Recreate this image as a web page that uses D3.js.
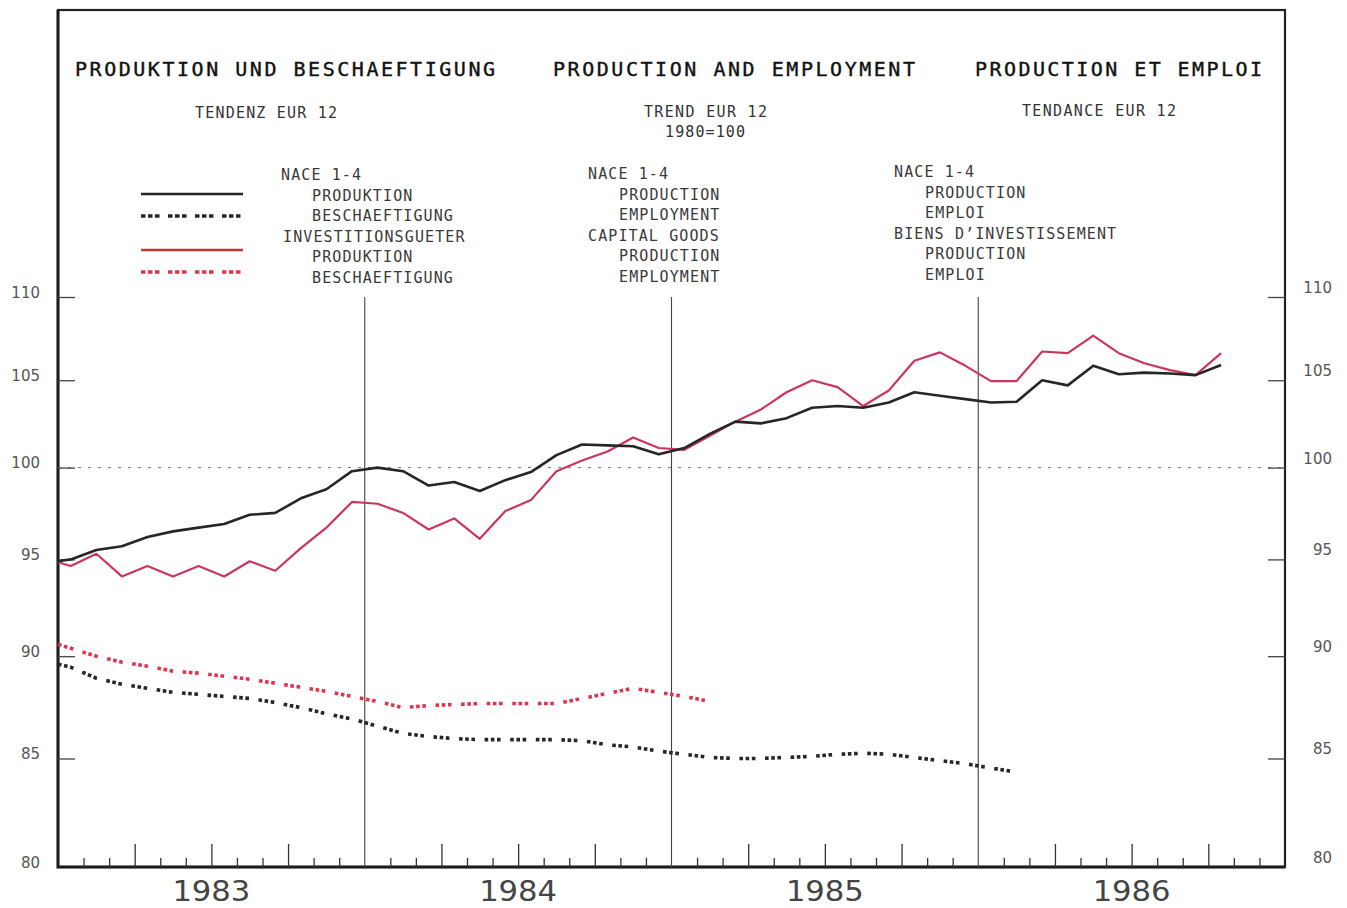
<!DOCTYPE html>
<meta charset="utf-8">
<script src="https://d3js.org/d3.v7.min.js"></script>
<style>
  body { margin: 0; background: #fff; }
  text { font-family: "DejaVu Sans Mono", monospace; }
</style>
<div id="chart"></div>
<script>
// years on the x axis
var years = ["1983", "1984", "1985", "1986"];
var yTicks = [80, 85, 90, 95, 100, 105, 110];

// first value sits on 1 Jan 1983, the rest are monthly (mid-month)
var naceProd = [94.9, 95.0, 95.5, 95.7, 96.2, 96.5, 96.7, 96.9, 97.4, 97.5, 98.3, 98.8, 99.8,
  100.0, 99.8, 99.0, 99.2, 98.7, 99.3, 99.75, 100.7, 101.3, 101.25, 101.2, 100.75,
  101.1, 101.9, 102.6, 102.5, 102.8, 103.4, 103.5, 103.4, 103.7, 104.3, 104.1,
  103.9, 103.7, 103.75, 105.0, 104.7, 105.85, 105.35, 105.45, 105.4, 105.3, 105.9];
var naceEmpl = [89.6, 89.45, 88.9, 88.6, 88.4, 88.2, 88.1, 88.0, 87.9, 87.7, 87.45, 87.15, 86.9,
  86.55, 86.2, 86.05, 85.95, 85.9, 85.9, 85.9, 85.9, 85.85, 85.65, 85.55, 85.35,
  85.2, 85.05, 85.0, 85.0, 85.05, 85.1, 85.2, 85.25, 85.2, 85.05, 84.9, 84.75, 84.55, 84.35];
var capProd = [94.85, 94.65, 95.3, 94.1, 94.65, 94.1, 94.65, 94.1, 94.9, 94.4, 95.6, 96.7, 98.1,
  98.0, 97.5, 96.6, 97.2, 96.1, 97.6, 98.2, 99.8, 100.4, 100.9, 101.7, 101.1,
  101.0, 101.8, 102.6, 103.3, 104.3, 105.0, 104.6, 103.5, 104.4, 106.15, 106.65,
  105.85, 104.95, 104.95, 106.7, 106.6, 107.65, 106.6, 106.0, 105.6, 105.3, 106.6];
var capEmpl = [90.6, 90.4, 90.0, 89.7, 89.5, 89.25, 89.15, 89.0, 88.85, 88.65, 88.45, 88.25, 88.0,
  87.75, 87.45, 87.55, 87.6, 87.65, 87.65, 87.65, 87.65, 87.9, 88.15, 88.4, 88.2, 88.0, 87.75];

var titles = ["PRODUKTION UND BESCHAEFTIGUNG", "PRODUCTION AND EMPLOYMENT", "PRODUCTION ET EMPLOI"];
var legendCols = [
  ["NACE 1-4", "PRODUKTION", "BESCHAEFTIGUNG", "INVESTITIONSGUETER", "PRODUKTION", "BESCHAEFTIGUNG"],
  ["NACE 1-4", "PRODUCTION", "EMPLOYMENT", "CAPITAL GOODS", "PRODUCTION", "EMPLOYMENT"],
  ["NACE 1-4", "PRODUCTION", "EMPLOI", "BIENS D\u2019INVESTISSEMENT", "PRODUCTION", "EMPLOI"]
];

var W = 1347, H = 908;
var pL = 58, pR = 1285, pT = 10, pB = 867;
var black = "#262626", red = "#cc3560", redDot = "#e2334c";

var svg = d3.select("#chart").append("svg")
  .attr("width", W).attr("height", H);
svg.append("rect").attr("width", W).attr("height", H).attr("fill", "#fff");

var x = d3.scaleLinear().domain([0, 48]).range([pL, pR]);
var y = d3.scaleLog().domain([80, 110]).range([pB, 297]);

function tOf(i) { return i == 0 ? 0 : i - 0.5; }

// frame
svg.append("rect")
  .attr("x", pL).attr("y", pT)
  .attr("width", pR - pL).attr("height", pB - pT)
  .attr("fill", "none").attr("stroke", "#222").attr("stroke-width", 2.2);
// heavier left and bottom axis lines
svg.append("path")
  .attr("d", "M" + pL + "," + pT + "V" + pB + "H" + pR)
  .attr("fill", "none").attr("stroke", "#1c1c1c").attr("stroke-width", 3);

// 100 reference
svg.append("line")
  .attr("x1", pL).attr("x2", pR)
  .attr("y1", y(100)).attr("y2", y(100))
  .attr("stroke", "#777").attr("stroke-width", 1)
  .attr("stroke-dasharray", "3,7");

// year separators
svg.selectAll(".sep").data([12, 24, 36]).enter().append("line")
  .attr("x1", d => x(d)).attr("x2", d => x(d))
  .attr("y1", y(110)).attr("y2", pB)
  .attr("stroke", "#444").attr("stroke-width", 1.1);

// y axes: ticks inside, labels outside
var yl = svg.append("g").attr("transform", "translate(" + pL + ",0)")
  .call(d3.axisLeft(y).tickValues(yTicks).tickFormat(d3.format("d"))
    .tickSizeInner(-17).tickSizeOuter(0).tickPadding(18));
var yr = svg.append("g").attr("transform", "translate(" + pR + ",0)")
  .call(d3.axisRight(y).tickValues(yTicks).tickFormat(d3.format("d"))
    .tickSizeInner(-17).tickSizeOuter(0).tickPadding(17));
[yl, yr].forEach(function(g) {
  g.select(".domain").remove();
  g.selectAll(".tick line").attr("stroke", "#444").attr("stroke-width", 1.3)
    .filter(d => d == 80).remove();
  g.selectAll(".tick text")
    .attr("fill", "#555").attr("dy", "0.0em")
    .style("font-family", "'DejaVu Sans', sans-serif").style("font-size", "15px");
});
yr.selectAll(".tick text").attr("text-anchor", "end").attr("x", 47).attr("dy", "-0.3em");

// x ticks: months small, quarters tall
var monthTicks = d3.range(1, 48).filter(m => m % 12 != 0 && m % 3 != 0);
var quarterTicks = d3.range(3, 48, 3).filter(m => m % 12 != 0);
var xm = svg.append("g").attr("transform", "translate(0," + pB + ")")
  .call(d3.axisBottom(x).tickValues(monthTicks).tickFormat("").tickSizeInner(-9).tickSizeOuter(0));
var xq = svg.append("g").attr("transform", "translate(0," + pB + ")")
  .call(d3.axisBottom(x).tickValues(quarterTicks).tickFormat("").tickSizeInner(-23).tickSizeOuter(0));
[xm, xq].forEach(function(g) {
  g.select(".domain").remove();
  g.selectAll(".tick line").attr("stroke", "#333").attr("stroke-width", 1.3);
});

svg.selectAll(".year").data(years).enter().append("text")
  .attr("x", (d, i) => x(i * 12 + 6)).attr("y", 901)
  .attr("text-anchor", "middle")
  .attr("fill", "#444")
  .style("font-family", "'DejaVu Sans', sans-serif").style("font-size", "28px")
  .attr("textLength", 78).attr("lengthAdjust", "spacingAndGlyphs")
  .text(d => d);

// series
var line = d3.line().x((d, i) => x(tOf(i))).y(d => y(d));
var dots = "3.6,2.6,3.6,2.6,3.6,9.6";

svg.append("path").datum(naceEmpl).attr("d", line)
  .attr("fill", "none").attr("stroke", black).attr("stroke-width", 3.6)
  .attr("stroke-dasharray", dots);
svg.append("path").datum(capEmpl).attr("d", line)
  .attr("fill", "none").attr("stroke", redDot).attr("stroke-width", 3.6)
  .attr("stroke-dasharray", dots);
svg.append("path").datum(capProd).attr("d", line)
  .attr("fill", "none").attr("stroke", red).attr("stroke-width", 2.2)
  .attr("stroke-linejoin", "round");
svg.append("path").datum(naceProd).attr("d", line)
  .attr("fill", "none").attr("stroke", black).attr("stroke-width", 2.6)
  .attr("stroke-linejoin", "round");

// titles
var titleX = [75, 553, 975], titleW = [420, 362, 287];
svg.selectAll(".title").data(titles).enter().append("text")
  .attr("x", (d, i) => titleX[i]).attr("y", 76)
  .attr("fill", "#111").style("font-size", "20px")
  .attr("stroke", "#111").attr("stroke-width", 0.4)
  .attr("textLength", (d, i) => titleW[i]).attr("lengthAdjust", "spacing")
  .text(d => d);

var subs = [
  {t: "TENDENZ EUR 12", x: 195, y: 118, w: 142},
  {t: "TREND EUR 12", x: 644, y: 117, w: 123},
  {t: "1980=100", x: 665, y: 137, w: 80},
  {t: "TENDANCE EUR 12", x: 1022, y: 116, w: 154}
];
svg.selectAll(".sub").data(subs).enter().append("text")
  .attr("x", d => d.x).attr("y", d => d.y)
  .attr("fill", "#333").style("font-size", "15px")
  .attr("textLength", d => d.w).attr("lengthAdjust", "spacing")
  .text(d => d.t);

// legend text columns
var colX = [281, 588, 894], colY = [180, 179, 177];
var indent = [0, 31, 31, 0, 31, 31];
legendCols.forEach(function(col, c) {
  svg.selectAll(".lg" + c).data(col).enter().append("text")
    .attr("x", (d, i) => colX[c] + indent[i] + (c == 0 && i == 3 ? 2 : 0))
    .attr("y", (d, i) => colY[c] + i * 20.5)
    .attr("fill", "#3a3a3a").style("font-size", "15px")
    .attr("textLength", d => d.length * 10.15 - 1.2).attr("lengthAdjust", "spacing")
    .text(d => d);
});

// legend samples
var legendKeys = [
  {y: 194, c: black, w: 2.6, dash: null},
  {y: 216, c: black, w: 3.6, dash: "4.5,2.5,4.5,2.5,4.5,8.5"},
  {y: 250, c: "#c8352e", w: 2.6, dash: null},
  {y: 272, c: redDot, w: 3.6, dash: "4.5,2.5,4.5,2.5,4.5,8.5"}
];
svg.selectAll(".key").data(legendKeys).enter().append("line")
  .attr("x1", 141).attr("x2", 243)
  .attr("y1", d => d.y).attr("y2", d => d.y)
  .attr("stroke", d => d.c).attr("stroke-width", d => d.w)
  .attr("stroke-dasharray", d => d.dash);
</script>
